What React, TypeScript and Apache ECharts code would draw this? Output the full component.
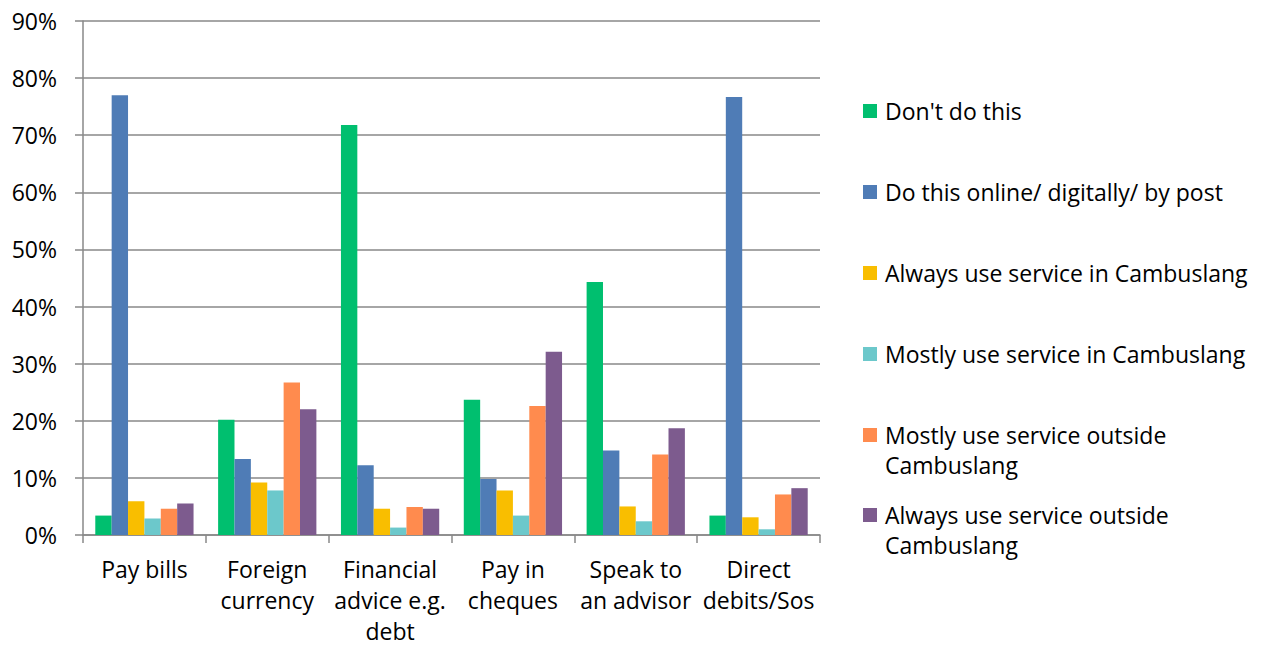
import React, { useEffect, useRef } from "react";
import * as echarts from "echarts";

const categories = [
  "Pay bills",
  "Foreign\ncurrency",
  "Financial\nadvice e.g.\ndebt",
  "Pay in\ncheques",
  "Speak to\nan advisor",
  "Direct\ndebits/Sos",
];

const seriesNames = [
  "Don't do this",
  "Do this online/ digitally/ by post",
  "Always use service in Cambuslang",
  "Mostly use service in Cambuslang",
  "Mostly use service outside Cambuslang",
  "Always use service outside Cambuslang",
];

// legend text split: first line shown by the legend, optional second line below it
const legendFirstLines = [
  "Don't do this",
  "Do this online/ digitally/ by post",
  "Always use service in Cambuslang",
  "Mostly use service in Cambuslang",
  "Mostly use service outside",
  "Always use service outside",
];
const legendSecondLines = ["", "", "", "", "Cambuslang", "Cambuslang"];

const dontDo = [3.4, 20.2, 71.8, 23.7, 44.3, 3.4];
const online = [77.0, 13.3, 12.2, 9.8, 14.8, 76.7];
const alwaysIn = [5.9, 9.2, 4.6, 7.8, 5.0, 3.1];
const mostlyIn = [2.9, 7.8, 1.3, 3.4, 2.4, 1.0];
const mostlyOut = [4.6, 26.7, 4.9, 22.6, 14.1, 7.1];
const alwaysOut = [5.5, 22.0, 4.6, 32.1, 18.7, 8.2];

const seriesValues = [dontDo, online, alwaysIn, mostlyIn, mostlyOut, alwaysOut];
const colors = ["#00BF6F", "#4F7CB6", "#F9BE00", "#6CC8CB", "#FF8B4E", "#7D5B8E"];

const FONT = "Open Sans";
const FS = 23;

export default function App() {
  const ref = useRef<HTMLDivElement>(null);
  useEffect(() => {
    if (!ref.current) return;
    const chart = echarts.init(ref.current, undefined, { renderer: "svg" });
    const legendCenters = [111, 192, 273, 354, 435, 515];
    const lineGap = 30;
    const legends = seriesNames.map((name, i) => ({
      data: [name],
      orient: "vertical",
      left: 863,
      top: legendCenters[i] - 15,
      padding: 0,
      itemWidth: 14,
      itemHeight: 14,
      icon: "rect",
      selectedMode: false,
      formatter: () => legendFirstLines[i],
      textStyle: {
        fontFamily: FONT,
        fontSize: FS,
        color: "#000",
        lineHeight: 30,
        padding: [0, 0, 0, 3],
      },
    }));
    const secondLines = legendSecondLines
      .map((t, i) => ({ t, i }))
      .filter((d) => d.t)
      .map((d) => ({
        type: "text",
        left: 885,
        top: legendCenters[d.i] + lineGap - 15,
        style: {
          text: d.t,
          fontFamily: FONT,
          fontSize: FS,
          fill: "#000",
          lineHeight: 30,
        },
      }));
    chart.setOption({
      animation: false,
      color: colors,
      textStyle: { fontFamily: FONT },
      legend: legends,
      graphic: secondLines,
      grid: { left: 83, right: 443, top: 21, bottom: 109, containLabel: false },
      xAxis: {
        type: "category",
        data: categories,
        axisLine: { lineStyle: { color: "#898989", width: 1.5 } },
        axisTick: { show: true, length: 8, lineStyle: { color: "#898989", width: 1.5 } },
        axisLabel: {
          fontFamily: FONT,
          fontSize: FS,
          color: "#000",
          lineHeight: 31,
          margin: 18,
          interval: 0,
        },
      },
      yAxis: {
        type: "value",
        min: 0,
        max: 90,
        interval: 10,
        axisLine: { show: true, lineStyle: { color: "#898989", width: 1.5 } },
        axisTick: { show: true, length: 8, lineStyle: { color: "#898989", width: 1.5 } },
        splitLine: { lineStyle: { color: "#898989", width: 1.5 } },
        axisLabel: {
          fontFamily: FONT,
          fontSize: FS,
          color: "#000",
          margin: 26,
          formatter: (v: number) => `${v}%`,
        },
      },
      series: seriesNames.map((name, i) => ({
        name,
        type: "bar",
        data: seriesValues[i],
        barGap: "0%",
        barCategoryGap: "20%",
        itemStyle: { color: colors[i] },
      })),
    });
    return () => chart.dispose();
  }, []);
  return (
    <div
      ref={ref}
      style={{ position: "fixed", left: 0, top: 0, width: 1263, height: 646, background: "#fff" }}
    />
  );
}
